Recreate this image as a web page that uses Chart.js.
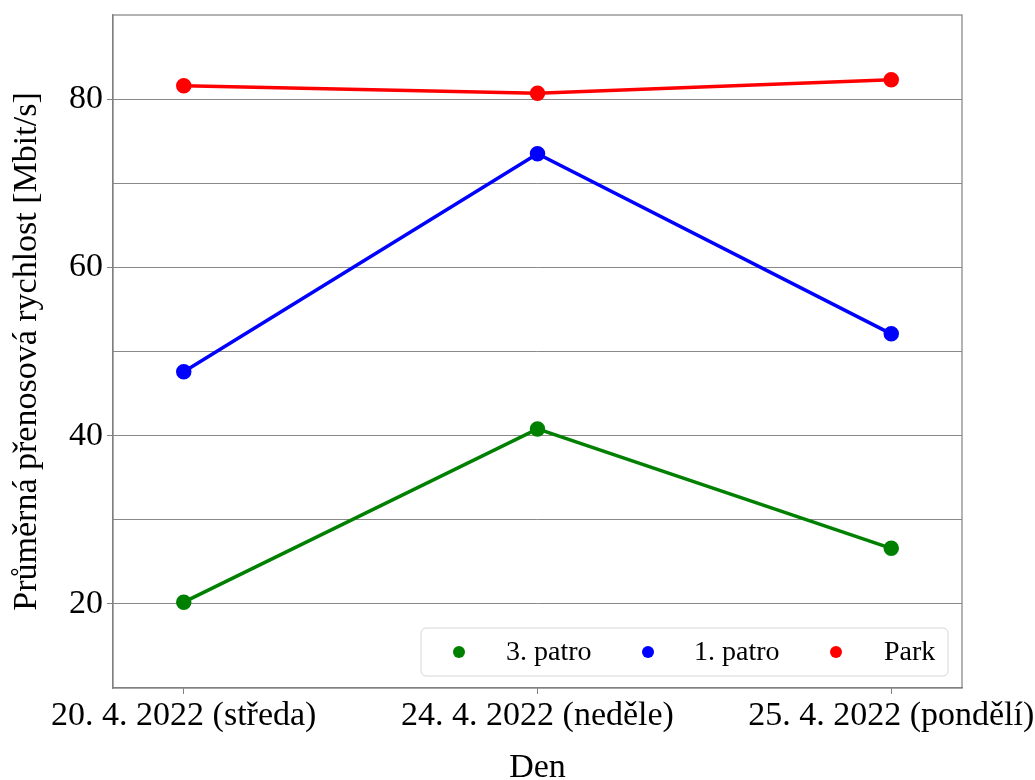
<!DOCTYPE html>
<html>
<head>
<meta charset="utf-8">
<script src="https://cdn.jsdelivr.net/npm/chart.js@4"></script>
<style>
  html, body { margin: 0; padding: 0; background: #fff; }
  #wrap { width: 1035px; height: 780px; }
</style>
</head>
<body>
<div id="wrap"><canvas id="speedGraph" width="1035" height="780"></canvas></div>
<script>
// Days (x categories)
const days = ['20. 4. 2022 (středa)', '24. 4. 2022 (neděle)', '25. 4. 2022 (pondělí)'];

// Average speed per location [Mbit/s]
const patro3 = [20.2, 40.8, 26.6];
const patro1 = [47.6, 73.5, 52.1];
const park = [81.6, 80.7, 82.3];

const seriesNames = ['3. patro', '1. patro', 'Park'];
const seriesColors = ['#008000', '#0000ff', '#ff0000'];

const FONT = '"Liberation Serif", "DejaVu Serif", serif';

function toPoints(values) {
    return values.map((v, i) => ({ x: i, y: v }));
}

// frame around plot + legend box in lower right
const framePlugin = {
    id: 'frame',
    afterDraw(chart) {
        const ctx = chart.ctx;
        const a = chart.chartArea;
        ctx.save();
        ctx.strokeStyle = '#808080';
        ctx.lineWidth = 1.2;
        ctx.strokeRect(a.left, a.top, a.right - a.left, a.bottom - a.top);

        // legend
        const bx = 421, by = 628, bw = 527, bh = 48, r = 5;
        ctx.beginPath();
        ctx.roundRect(bx, by, bw, bh, r);
        ctx.fillStyle = 'rgba(255,255,255,0.85)';
        ctx.fill();
        ctx.strokeStyle = '#d6d6d6';
        ctx.lineWidth = 1;
        ctx.stroke();

        const markX = [459, 648, 836];
        const textX = [506, 694, 884];
        ctx.font = '28px ' + FONT;
        ctx.textBaseline = 'middle';
        chart.data.datasets.forEach((ds, i) => {
            ctx.beginPath();
            ctx.arc(markX[i], by + bh / 2, 6, 0, Math.PI * 2);
            ctx.fillStyle = ds.borderColor;
            ctx.fill();
            ctx.fillStyle = '#000';
            ctx.fillText(ds.label, textX[i], by + bh / 2 + 1);
        });
        ctx.restore();
    }
};

const datasets = [patro3, patro1, park].map((vals, i) => ({
    label: seriesNames[i],
    data: toPoints(vals),
    borderColor: seriesColors[i],
    backgroundColor: seriesColors[i],
    borderWidth: 3.5,
    pointRadius: 6,
    pointHoverRadius: 6,
    tension: 0
}));

const ctxSpeed = document.getElementById('speedGraph').getContext('2d');
const speedGraph = new Chart(ctxSpeed, {
    type: 'line',
    data: { datasets: datasets },
    plugins: [framePlugin],
    options: {
        responsive: false,
        animation: false,
        layout: { padding: { top: 15, right: 73, left: 0, bottom: 0 } },
        plugins: { legend: { display: false }, tooltip: { enabled: false } },
        scales: {
            x: {
                type: 'linear',
                min: -0.2,
                max: 2.2,
                afterBuildTicks(scale) {
                    scale.ticks = days.map((d, i) => ({ value: i }));
                },
                afterFit(scale) {
                    scale.height = 92;
                    scale.paddingLeft = 0;
                    scale.paddingRight = 0;
                },
                ticks: {
                    callback: (v) => days[v],
                    color: '#000',
                    font: { family: FONT, size: 34 },
                    padding: 2,
                    maxRotation: 0,
                    autoSkip: false
                },
                grid: { drawOnChartArea: false, tickLength: 6, color: '#808080' },
                border: { color: '#808080', width: 1.2 },
                title: {
                    display: true,
                    text: 'Den',
                    color: '#000',
                    font: { family: FONT, size: 34, lineHeight: 1 },
                    padding: { top: 0, bottom: -5 }
                }
            },
            y: {
                min: 10,
                max: 90,
                afterFit(scale) {
                    scale.width = 113;
                    scale.paddingTop = 0;
                    scale.paddingBottom = 0;
                },
                ticks: {
                    stepSize: 10,
                    callback: (v) => (v % 20 === 0 ? String(v) : ''),
                    color: '#000',
                    font: { family: FONT, size: 34 },
                    padding: 4
                },
                grid: {
                    color: (c) => (c.tick && (c.tick.value === 10 || c.tick.value === 90) ? 'rgba(0,0,0,0)' : '#888888'),
                    tickColor: (c) => (c.tick && c.tick.value % 20 === 0 ? '#808080' : 'rgba(0,0,0,0)'),
                    tickLength: 6,
                    lineWidth: 1
                },
                border: { color: '#808080', width: 1.2 },
                title: {
                    display: true,
                    text: 'Průměrná přenosová rychlost [Mbit/s]',
                    color: '#000',
                    font: { family: FONT, size: 34 },
                    padding: { top: 7, bottom: 0 }
                }
            }
        }
    }
});
</script>
</body>
</html>
